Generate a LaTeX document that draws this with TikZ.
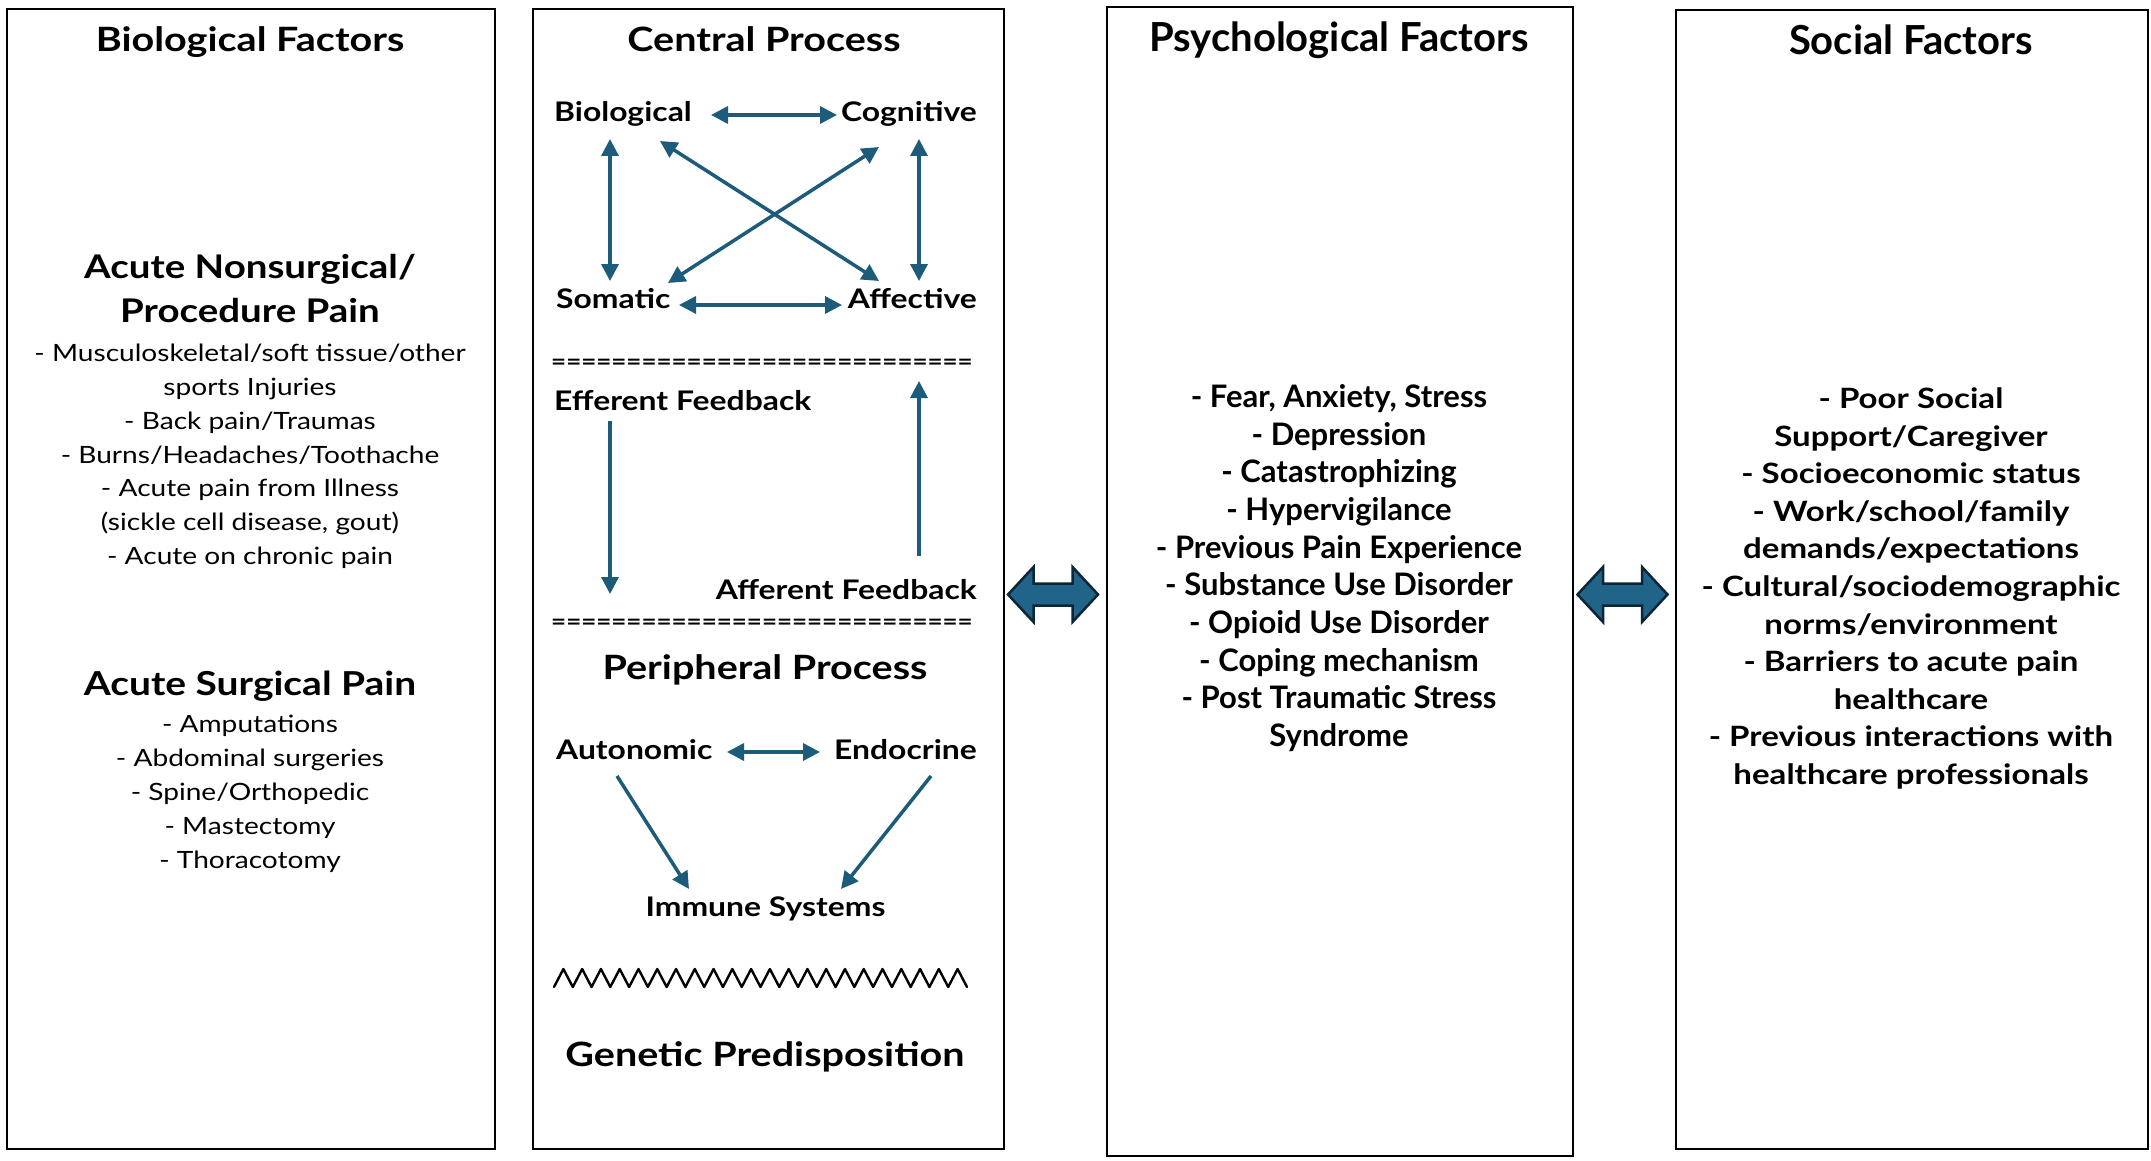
\documentclass[tikz,border=0pt]{standalone}
\usepackage{fontspec}
\setmainfont{Lato}[FakeStretch=1.18]
\newfontfamily\narrowfont{Lato}
\usetikzlibrary{arrows.meta,calc}
\definecolor{arrowblue}{HTML}{1D5B7B}
\definecolor{blockfill}{HTML}{21648A}
\definecolor{blockline}{HTML}{0C2636}
\newcommand\fsz[2]{\fontsize{#1}{#2}\selectfont}
\begin{document}
\begin{tikzpicture}[x=1pt,y=-1pt,
  panel/.style={draw=black,line width=2.2pt,anchor=north west,inner sep=0pt},
  ttl/.style={font=\bfseries\fsz{33.5}{40},inner sep=0pt,text height=31pt,text depth=7pt},
  nttl/.style={font=\narrowfont\bfseries\fsz{40}{48},inner sep=0pt,text height=37pt,text depth=8pt},
  lbl/.style={font=\bfseries\fsz{27}{32},inner sep=0pt,text height=25pt,text depth=5.5pt},
  lst/.style={align=center,inner sep=0pt,anchor=north},
  sepline/.style={font=\bfseries\fsz{22}{26},inner sep=0pt},
  >={Triangle[length=17pt,width=17pt]},
  arr/.style={draw=arrowblue,line width=3.5pt},
  bidir/.pic={
    \draw[draw=blockline,fill=blockfill,line width=2.5pt,line join=miter]
      (-45,0) -- (-19.5,-27.5) -- (-19.5,-11) -- (19.5,-11) -- (19.5,-27.5) -- (45,0)
      -- (19.5,27.5) -- (19.5,11) -- (-19.5,11) -- (-19.5,27.5) -- cycle;
  }
]
\fill[white] (0,0) rectangle (2151,1161);
\useasboundingbox (0,0) rectangle (2151,1161);

% ---------------- Panels
\node[panel,minimum width=488.5pt,minimum height=1140pt] (bbio) at (5.5,8) {};
\node[panel,minimum width=471pt,minimum height=1140pt] (bcen) at (532,8) {};
\node[panel,minimum width=466pt,minimum height=1149pt] (bpsy) at (1106,6) {};
\node[panel,minimum width=472pt,minimum height=1139pt] (bsoc) at (1675,9) {};

% ---------------- Biological factors
\node[ttl] (tbio) at (250,40) {Biological Factors};
\node[lst,font=\bfseries\fsz{32.6}{44}] (hnons) at (250,253.6) {Acute Nonsurgical/\\Procedure Pain};
\node[lst,font=\fsz{23.8}{33.8}] (lnons) at (250,344)
  {- Musculoskeletal/soft tissue/other\\sports Injuries\\- Back pain/Traumas\\- Burns/Headaches/Toothache\\- Acute pain from Illness\\(sickle cell disease, gout)\\- Acute on chronic pain};
\node[ttl,font=\bfseries\fsz{33}{40}] (hsurg) at (250,683) {Acute Surgical Pain};
\node[lst,font=\fsz{23.8}{34}] (lsurg) at (250,715)
  {- Amputations\\- Abdominal surgeries\\- Spine/Orthopedic\\- Mastectomy\\- Thoracotomy};

% ---------------- Central process
\node[ttl] (tcen) at (764,40) {Central Process};
\node[lbl,anchor=west] (nbio) at (554,112) {Biological};
\node[lbl,anchor=east] (ncog) at (977,112) {Cognitive};
\node[lbl,anchor=west] (nsom) at (556,299) {Somatic};
\node[lbl,anchor=east] (naff) at (977,299) {Affective};
\node[sepline] (sep1) at (762,364) {============================};
\node[lbl,anchor=west] (neff) at (554,401) {Efferent Feedback};
\node[lbl,anchor=east] (naffb) at (977,590) {Afferent Feedback};
\node[sepline] (sep2) at (762,624) {============================};
\node[ttl] (tper) at (765,667) {Peripheral Process};
\node[lbl,anchor=west] (naut) at (556,750) {Autonomic};
\node[lbl,anchor=east] (nend) at (977,750) {Endocrine};
\node[lbl] (nimm) at (765.5,907) {Immune Systems};
\node[ttl] (tgen) at (765,1054) {Genetic Predisposition};

\draw[arr,<->] ($(nbio.west)+(157,3)$) -- ($(ncog.east)+(-140,3)$);
\draw[arr,<->] ($(nbio.west)+(56,27)$) -- ($(nsom.west)+(54,-18)$);
\draw[arr,<->] ($(ncog.east)+(-58,27)$) -- ($(naff.east)+(-58,-18)$);
\draw[arr,<->] ($(nbio.west)+(106,29)$) -- ($(naff.east)+(-98,-18)$);
\draw[arr,<->] ($(nsom.west)+(112,-16)$) -- ($(ncog.east)+(-98,35)$);
\draw[arr,<->] ($(nsom.west)+(123,6)$) -- ($(naff.east)+(-135,6)$);
\draw[arr,->] ($(neff.west)+(56,20)$) -- ($(sep2.center)+(-152,-30)$);
\draw[arr,->] ($(naffb.east)+(-58,-34)$) -- ($(sep1.center)+(157,17)$);
\draw[arr,<->] ($(naut.west)+(171,2)$) -- ($(nend.east)+(-157,2)$);
\draw[arr,->] ($(naut.west)+(61,26)$) -- ($(nimm.center)+(-76.5,-18)$);
\draw[arr,->] ($(nend.east)+(-46,26)$) -- ($(nimm.center)+(75.5,-18)$);

% wavy separator
\draw[line width=2.4pt,line join=round,line cap=round]
  (554,987) \foreach \j in {1,...,22} {
    -- ({554+(2*\j-1)*9.386},969) -- ({554+2*\j*9.386},987)
  };

% ---------------- Psychological factors
\node[nttl] (tpsy) at (1339,37) {Psychological Factors};
\node[lst,font=\narrowfont\bfseries\fsz{31}{37.7}] (lpsy) at (1339,384.2)
  {- Fear, Anxiety, Stress\\- Depression\\- Catastrophizing\\- Hypervigilance\\- Previous Pain Experience\\- Substance Use Disorder\\- Opioid Use Disorder\\- Coping mechanism\\- Post Traumatic Stress\\Syndrome};

% ---------------- Social factors
\node[nttl] (tsoc) at (1911,40) {Social Factors};
\node[lst,font=\bfseries\fsz{28}{37.6}] (lsoc) at (1911,387.4)
  {- Poor Social\\Support/Caregiver\\- Socioeconomic status\\- Work/school/family\\demands/expectations\\- Cultural/sociodemographic\\norms/environment\\- Barriers to acute pain\\healthcare\\- Previous interactions with\\healthcare professionals};

% ---------------- Bidirectional block arrows
\pic at (1053,594.5) {bidir};
\pic at (1622.5,594.5) {bidir};
\end{tikzpicture}
\end{document}
